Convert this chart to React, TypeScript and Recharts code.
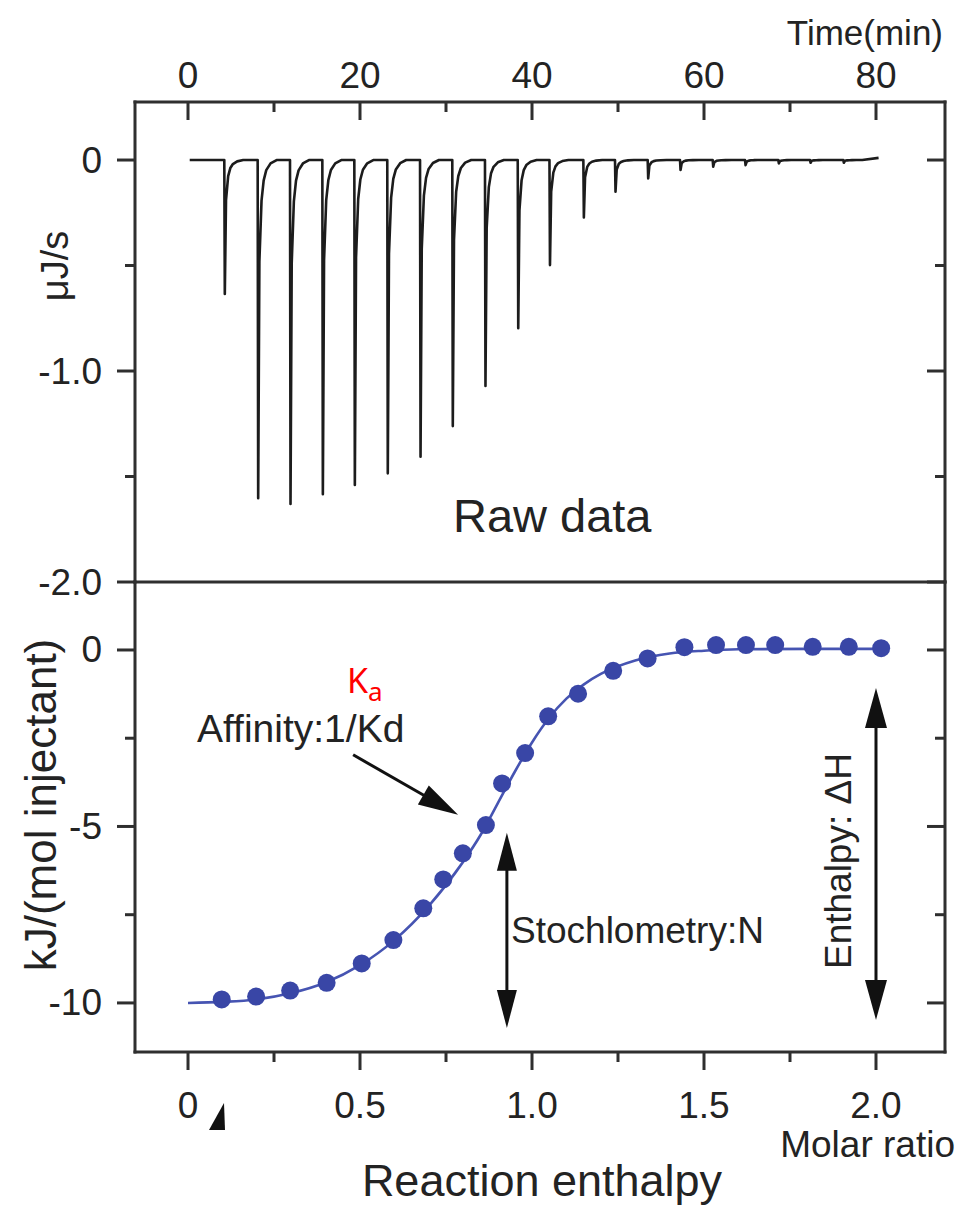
import React from 'react';
import {
  LineChart,
  ComposedChart,
  Line,
  Scatter,
  XAxis,
  YAxis,
  ReferenceLine,
  ReferenceDot,
} from 'recharts';

// ---------------- style constants ----------------
const FONT = '"Liberation Sans", Arial, Helvetica, sans-serif';
const KA_FONT = '"Noto Sans", "Open Sans", sans-serif';
const AXIS_COLOR = '#2f2f2f';
const TEXT_COLOR = '#232323';
const TRACE_COLOR = '#1c1c1c';
const DOT_BLUE = '#3946a6';
const FIT_BLUE = '#4654b2';
const RED = '#ff0000';

const CHART_W = 960;
const CHART_H = 1212;
const TICK_FONT = 37;
const MAJOR_LEN = 18;
const MINOR_LEN = 10;

// ---------------- raw data panel ----------------
const TIME_MAJOR_TICKS = [0, 20, 40, 60, 80];
const TIME_MINOR_TICKS = [10, 30, 50, 70];
const POWER_MAJOR_TICKS = [0, -1, -2];
const POWER_MINOR_TICKS = [-0.5, -1.5];
const TIME_DOMAIN: [number, number] = [-6.163, 88.023];
const POWER_DOMAIN: [number, number] = [-2, 0.275];

// injection times (min) and peak minima (µJ/s)
const INJECTION_TIMES = [
  4.22, 8.1, 11.86, 15.62, 19.34, 23.17, 26.98, 30.73, 34.53, 38.34,
  42.03, 45.97, 49.65, 53.45, 57.21, 61.01, 64.77, 68.64, 72.33, 76.2,
];
const INJECTION_PEAKS = [
  -0.635, -1.603, -1.63, -1.584, -1.54, -1.485, -1.406, -1.261, -1.071, -0.797,
  -0.498, -0.272, -0.15, -0.087, -0.047, -0.032, -0.024, -0.016, -0.013, -0.013,
];
// shape of one injection peak (time after injection, fraction of peak depth)
const PEAK_OFFSETS = [0, 0.06, 0.2, 0.45, 0.7, 1.0, 1.5, 2.2];
const PEAK_FRACTIONS = [0, 1, 0.3, 0.12, 0.06, 0.03, 0.01, 0];
const TRACE_START = { x: 0.2, y: 0 };
const TRACE_END = { x: 80.3, y: 0.01 };

// ---------------- integrated heat panel ----------------
const RATIO_MAJOR_TICKS = [0, 0.5, 1, 1.5, 2];
const RATIO_MINOR_TICKS = [0.25, 0.75, 1.25, 1.75];
const HEAT_MAJOR_TICKS = [0, -5, -10];
const HEAT_MINOR_TICKS = [-2.5, -7.5];
const RATIO_DOMAIN: [number, number] = [-0.1541, 2.2006];
const HEAT_DOMAIN: [number, number] = [-11.39, 1.926];

const MOLAR_RATIO = [
  0.098, 0.198, 0.297, 0.403, 0.505, 0.597, 0.684, 0.742, 0.799, 0.866, 0.913, 0.98,
  1.047, 1.134, 1.236, 1.336, 1.443, 1.535, 1.622, 1.707, 1.816, 1.921, 2.015,
];
const HEAT = [
  -9.9, -9.82, -9.65, -9.43, -8.88, -8.22, -7.32, -6.5, -5.76, -4.96, -3.78, -2.92,
  -1.88, -1.24, -0.59, -0.24, 0.08, 0.14, 0.14, 0.14, 0.09, 0.09, 0.05,
];
const FIT_RATIO = [
  0, 0.1, 0.2, 0.3, 0.4, 0.5, 0.6, 0.7, 0.8, 0.85, 0.9, 0.95, 1.0, 1.05, 1.1, 1.15,
  1.2, 1.3, 1.4, 1.5, 1.6, 1.8, 2.02,
];
const FIT_HEAT = [
  -10, -9.97, -9.9, -9.72, -9.42, -8.93, -8.22, -7.25, -6.0, -5.25, -4.35, -3.45,
  -2.62, -1.92, -1.38, -0.98, -0.68, -0.3, -0.1, -0.02, 0.02, 0.03, 0.03,
];

// annotations (data coordinates of the heat panel)
const KA_POS = { x: 0.462, y: -1.22 };
const AFFINITY_TEXT_POS = { x: 0.026, y: -2.61 };
const AFFINITY_ARROW = [{ x: 0.48, y: -2.97 }, { x: 0.785, y: -4.67 }];
const STOICH_ARROW = [{ x: 0.927, y: -5.18 }, { x: 0.927, y: -10.71 }];
const STOICH_TEXT_POS = { x: 0.939, y: -8.3 };
const ENTHALPY_ARROW = [{ x: 2.0, y: -1.08 }, { x: 2.0, y: -10.48 }];
const ENTHALPY_TEXT_POS = { x: 1.927, y: -5.98 };
const RAW_TEXT_POS = { x: 30.81, y: -1.763 };

// ---------------- derived tables ----------------
const rawTrace: { x: number; y: number }[] = [TRACE_START];
INJECTION_TIMES.forEach((t, i) => {
  PEAK_OFFSETS.forEach((o, j) => {
    rawTrace.push({ x: t + o, y: INJECTION_PEAKS[i] * PEAK_FRACTIONS[j] });
  });
});
rawTrace.push(TRACE_END);

const heatPoints = MOLAR_RATIO.map((x, i) => ({ x, y: HEAT[i] }));
const fitPoints = FIT_RATIO.map((x, i) => ({ x, y: FIT_HEAT[i] }));

const sortNum = (a: number[]) => [...a].sort((p, q) => p - q);

// ---------------- tick renderers ----------------
const isMajor = (v: number, majors: number[]) => majors.some((m) => Math.abs(m - v) < 1e-6);
const fmtInt = (v: number) => String(v);
const fmtOne = (v: number) => (v === 0 ? '0' : v.toFixed(1));

const tickText = (x: number, y: number, anchor: string, label: string) => (
  <text
    x={x}
    y={y}
    textAnchor={anchor as any}
    dominantBaseline="central"
    fontSize={TICK_FONT}
    fontFamily={FONT}
    fill={TEXT_COLOR}
  >
    {label}
  </text>
);

const makeLeftTick = (majors: number[], fmt: (v: number) => string) => (props: any) => {
  const { x, y, payload } = props;
  const major = isMajor(payload.value, majors);
  const len = major ? MAJOR_LEN : MINOR_LEN;
  return (
    <g>
      <line x1={x - len} y1={y} x2={x} y2={y} stroke={AXIS_COLOR} strokeWidth={3} />
      {major ? tickText(x - 33, y, 'end', fmt(payload.value)) : null}
    </g>
  );
};

const makeRightTick = (majors: number[]) => (props: any) => {
  const { x, y, payload } = props;
  const len = isMajor(payload.value, majors) ? MAJOR_LEN : MINOR_LEN;
  return <line x1={x - len} y1={y} x2={x} y2={y} stroke={AXIS_COLOR} strokeWidth={3} />;
};

const makeTopTick = (majors: number[], fmt: ((v: number) => string) | null) => (props: any) => {
  const { x, y, payload } = props;
  const major = isMajor(payload.value, majors);
  const len = major ? MAJOR_LEN : MINOR_LEN;
  return (
    <g>
      <line x1={x} y1={y} x2={x} y2={y + len} stroke={AXIS_COLOR} strokeWidth={3} />
      {major && fmt ? tickText(x, y - 27, 'middle', fmt(payload.value)) : null}
    </g>
  );
};

const makeBottomTick = (majors: number[], fmt: (v: number) => string) => (props: any) => {
  const { x, y, payload } = props;
  const major = isMajor(payload.value, majors);
  const len = major ? MAJOR_LEN : MINOR_LEN;
  return (
    <g>
      <line x1={x} y1={y} x2={x} y2={y + len} stroke={AXIS_COLOR} strokeWidth={3} />
      {major ? tickText(x, y + 53, 'middle', fmt(payload.value)) : null}
    </g>
  );
};

const AXIS_LINE = { stroke: AXIS_COLOR, strokeWidth: 3, strokeLinecap: 'square' as const };

// ---------------- annotation shapes ----------------
const headPoints = (tx: number, ty: number, fx: number, fy: number, len: number, hw: number) => {
  const dx = tx - fx;
  const dy = ty - fy;
  const d = Math.hypot(dx, dy) || 1;
  const ux = dx / d;
  const uy = dy / d;
  const bx = tx - ux * len;
  const by = ty - uy * len;
  return {
    pts: `${tx},${ty} ${bx - uy * hw},${by + ux * hw} ${bx + uy * hw},${by - ux * hw}`,
    bx: tx - ux * (len - 4),
    by: ty - uy * (len - 4),
  };
};

const makeArrow = (both: boolean, len: number, hw: number) => (props: any) => {
  const { x1, y1, x2, y2 } = props;
  const end = headPoints(x2, y2, x1, y1, len, hw);
  const start = both ? headPoints(x1, y1, x2, y2, len, hw) : null;
  return (
    <g>
      <line
        x1={start ? start.bx : x1}
        y1={start ? start.by : y1}
        x2={end.bx}
        y2={end.by}
        stroke="#111"
        strokeWidth={3}
      />
      <polygon points={end.pts} fill="#111" />
      {start ? <polygon points={start.pts} fill="#111" /> : null}
    </g>
  );
};

const textShape = (label: string, size: number) => (props: any) => (
  <text x={props.cx} y={props.cy} fontSize={size} fontFamily={FONT} fill={TEXT_COLOR}>
    {label}
  </text>
);

const rotatedTextShape = (label: string, size: number) => (props: any) => (
  <text
    x={props.cx}
    y={props.cy}
    fontSize={size}
    fontFamily={FONT}
    fill={TEXT_COLOR}
    textAnchor="middle"
    transform={`rotate(-90 ${props.cx} ${props.cy})`}
  >
    {label}
  </text>
);

const kaShape = (props: any) => (
  <text x={props.cx} y={props.cy} fontFamily={KA_FONT} fill={RED}>
    <tspan fontSize={34}>K</tspan>
    <tspan fontSize={26} dy={8}>a</tspan>
  </text>
);

const dotShape = (props: any) => <circle cx={props.cx} cy={props.cy} r={9} fill={DOT_BLUE} />;

// ---------------- component ----------------
export default function App() {
  return (
    <div style={{ position: 'absolute', left: 0, top: 0, width: CHART_W, height: CHART_H, background: '#fff' }}>
      {/* Raw data panel */}
      <div style={{ position: 'absolute', left: 0, top: 0 }}>
        <LineChart width={CHART_W} height={CHART_H} margin={{ top: 42, right: 5, bottom: 630, left: 75 }}>
          <XAxis
            xAxisId="time"
            orientation="top"
            type="number"
            dataKey="x"
            domain={TIME_DOMAIN}
            allowDataOverflow
            ticks={sortNum([...TIME_MAJOR_TICKS, ...TIME_MINOR_TICKS])}
            interval={0}
            tickLine={false}
            tickSize={0}
            tickMargin={0}
            height={60}
            axisLine={AXIS_LINE}
            tick={makeTopTick(TIME_MAJOR_TICKS, fmtInt)}
          />
          <YAxis
            yAxisId="power"
            orientation="left"
            type="number"
            dataKey="y"
            domain={POWER_DOMAIN}
            allowDataOverflow
            ticks={sortNum([...POWER_MAJOR_TICKS, ...POWER_MINOR_TICKS])}
            interval={0}
            tickLine={false}
            tickSize={0}
            tickMargin={0}
            width={60}
            axisLine={AXIS_LINE}
            tick={makeLeftTick(POWER_MAJOR_TICKS, fmtOne)}
          />
          <YAxis
            yAxisId="powerRight"
            orientation="right"
            type="number"
            domain={POWER_DOMAIN}
            allowDataOverflow
            ticks={sortNum([...POWER_MAJOR_TICKS, ...POWER_MINOR_TICKS])}
            interval={0}
            tickLine={false}
            tickSize={0}
            tickMargin={0}
            width={10}
            axisLine={AXIS_LINE}
            tick={makeRightTick(POWER_MAJOR_TICKS)}
          />
          <Line
            xAxisId="time"
            yAxisId="power"
            data={rawTrace}
            dataKey="y"
            type="linear"
            stroke={TRACE_COLOR}
            strokeWidth={2.6}
            strokeLinejoin="round"
            dot={false}
            isAnimationActive={false}
          />
          <ReferenceDot
            xAxisId="time"
            yAxisId="power"
            x={RAW_TEXT_POS.x}
            y={RAW_TEXT_POS.y}
            r={1}
            shape={textShape('Raw data', 47)}
          />
        </LineChart>
      </div>

      {/* Integrated heat panel */}
      <div style={{ position: 'absolute', left: 0, top: 0 }}>
        <ComposedChart width={CHART_W} height={CHART_H} margin={{ top: 580, right: 5, bottom: 100, left: 75 }}>
          <XAxis
            xAxisId="ratioTop"
            orientation="top"
            type="number"
            domain={RATIO_DOMAIN}
            allowDataOverflow
            ticks={sortNum([...RATIO_MAJOR_TICKS, ...RATIO_MINOR_TICKS])}
            interval={0}
            tickLine={false}
            tickSize={0}
            tickMargin={0}
            height={2}
            axisLine={AXIS_LINE}
            tick={makeTopTick(RATIO_MAJOR_TICKS, null)}
          />
          <XAxis
            xAxisId="ratio"
            orientation="bottom"
            type="number"
            dataKey="x"
            domain={RATIO_DOMAIN}
            allowDataOverflow
            ticks={sortNum([...RATIO_MAJOR_TICKS, ...RATIO_MINOR_TICKS])}
            interval={0}
            tickLine={false}
            tickSize={0}
            tickMargin={0}
            height={60}
            axisLine={AXIS_LINE}
            tick={makeBottomTick(RATIO_MAJOR_TICKS, fmtOne)}
          />
          <YAxis
            yAxisId="heat"
            orientation="left"
            type="number"
            dataKey="y"
            domain={HEAT_DOMAIN}
            allowDataOverflow
            ticks={sortNum([...HEAT_MAJOR_TICKS, ...HEAT_MINOR_TICKS])}
            interval={0}
            tickLine={false}
            tickSize={0}
            tickMargin={0}
            width={60}
            axisLine={AXIS_LINE}
            tick={makeLeftTick(HEAT_MAJOR_TICKS, fmtInt)}
          />
          <YAxis
            yAxisId="heatRight"
            orientation="right"
            type="number"
            domain={HEAT_DOMAIN}
            allowDataOverflow
            ticks={sortNum([...HEAT_MAJOR_TICKS, ...HEAT_MINOR_TICKS])}
            interval={0}
            tickLine={false}
            tickSize={0}
            tickMargin={0}
            width={10}
            axisLine={AXIS_LINE}
            tick={makeRightTick(HEAT_MAJOR_TICKS)}
          />
          <Line
            xAxisId="ratio"
            yAxisId="heat"
            data={fitPoints}
            dataKey="y"
            type="monotone"
            stroke={FIT_BLUE}
            strokeWidth={2.6}
            dot={false}
            isAnimationActive={false}
          />
          <Scatter
            xAxisId="ratio"
            yAxisId="heat"
            data={heatPoints}
            dataKey="y"
            fill={DOT_BLUE}
            shape={dotShape}
            isAnimationActive={false}
          />
          <ReferenceLine xAxisId="ratio" yAxisId="heat" segment={AFFINITY_ARROW} shape={makeArrow(false, 40, 11)} />
          <ReferenceLine xAxisId="ratio" yAxisId="heat" segment={STOICH_ARROW} shape={makeArrow(true, 38, 10)} />
          <ReferenceLine xAxisId="ratio" yAxisId="heat" segment={ENTHALPY_ARROW} shape={makeArrow(true, 40, 11)} />
          <ReferenceDot xAxisId="ratio" yAxisId="heat" x={KA_POS.x} y={KA_POS.y} r={1} shape={kaShape} />
          <ReferenceDot
            xAxisId="ratio"
            yAxisId="heat"
            x={AFFINITY_TEXT_POS.x}
            y={AFFINITY_TEXT_POS.y}
            r={1}
            shape={textShape('Affinity:1/Kd', 39)}
          />
          <ReferenceDot
            xAxisId="ratio"
            yAxisId="heat"
            x={STOICH_TEXT_POS.x}
            y={STOICH_TEXT_POS.y}
            r={1}
            shape={textShape('Stochlometry:N', 37)}
          />
          <ReferenceDot
            xAxisId="ratio"
            yAxisId="heat"
            x={ENTHALPY_TEXT_POS.x}
            y={ENTHALPY_TEXT_POS.y}
            r={1}
            shape={rotatedTextShape('Enthalpy: ΔH', 37)}
          />
        </ComposedChart>
      </div>

      {/* axis titles and caption */}
      <svg
        width={CHART_W}
        height={CHART_H}
        style={{ position: 'absolute', left: 0, top: 0, pointerEvents: 'none' }}
      >
        <text x={943} y={45} textAnchor="end" fontSize={35} fontFamily={FONT} fill={TEXT_COLOR}>
          Time(min)
        </text>
        <text
          x={55}
          y={266}
          textAnchor="middle"
          dominantBaseline="central"
          fontSize={38}
          fontFamily={FONT}
          fill={TEXT_COLOR}
          transform="rotate(-90 55 266)"
        >
          μJ/s
        </text>
        <text
          x={40}
          y={805}
          textAnchor="middle"
          dominantBaseline="central"
          fontSize={44}
          fontFamily={FONT}
          fill={TEXT_COLOR}
          transform="rotate(-90 40 805)"
        >
          kJ/(mol injectant)
        </text>
        <text x={955} y={1157} textAnchor="end" fontSize={37} fontFamily={FONT} fill={TEXT_COLOR}>
          Molar ratio
        </text>
        <text x={542} y={1196} textAnchor="middle" fontSize={45} fontFamily={FONT} fill={TEXT_COLOR}>
          Reaction enthalpy
        </text>
        <polygon points="224,1103 225,1130 209,1130" fill="#111" />
      </svg>
    </div>
  );
}
